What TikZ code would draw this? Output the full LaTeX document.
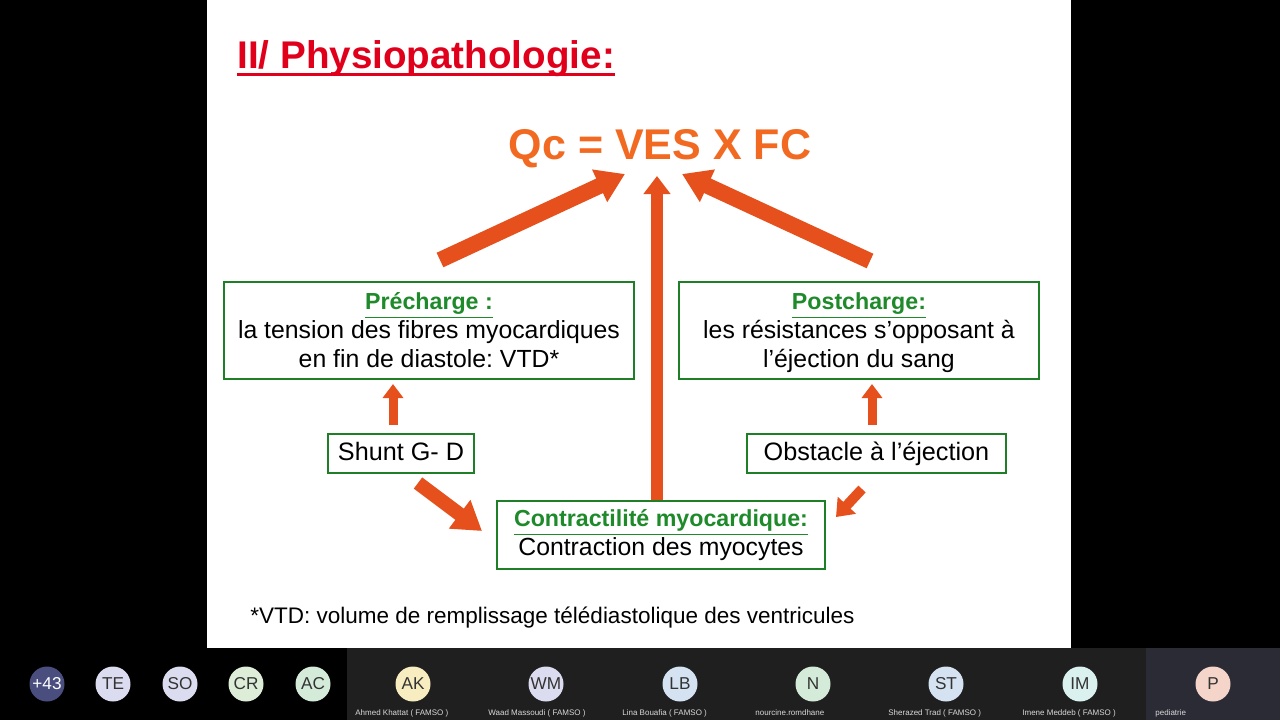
\documentclass[tikz,border=0pt]{standalone}
\usepackage{fontspec}
\setmainfont{Liberation Sans}
\usetikzlibrary{arrows.meta}

\definecolor{slidered}{HTML}{E0001B}
\definecolor{qcorange}{HTML}{F26A21}
\definecolor{boxgreen}{HTML}{1F7F26}
\definecolor{headgreen}{HTML}{1E8A2A}
\definecolor{arrowred}{HTML}{E5501C}
\definecolor{tilegrey}{HTML}{1F1F1F}
\definecolor{tileblue}{HTML}{2B2B36}
\definecolor{avnavy}{HTML}{4A4E7E}
\definecolor{avlilac}{HTML}{DCDCF0}
\definecolor{avmint}{HTML}{DDEDD8}
\definecolor{avsage}{HTML}{D4EBDA}
\definecolor{avcream}{HTML}{F8EDC0}
\definecolor{avsky}{HTML}{D4E2F2}
\definecolor{avaqua}{HTML}{DAF1F0}
\definecolor{avpeach}{HTML}{F5D5CA}

\newcommand{\boxhead}[1]{{\fontsize{11.6}{14.5}\selectfont\textcolor{headgreen}{\textbf{\underline{#1}}}}}
\frenchspacing

\begin{document}
\begin{tikzpicture}[x=0.5pt,y=-0.5pt,
   greenbox/.style={draw=boxgreen,line width=1.4pt,fill=white,align=center,
      inner sep=0pt,font=\fontsize{12.4}{14.5}\selectfont},
   smallbox/.style={greenbox,minimum height=19.5pt,text height=9.5pt,text depth=2.5pt,
      font=\fontsize{12.6}{14}\selectfont},
   bigarrow/.style={draw=arrowred,line width=8pt,-{Triangle[width=17pt,length=14pt]}},
   midarrow/.style={draw=arrowred,line width=6pt,-{Triangle[width=13pt,length=9pt]}},
   smallarrow/.style={draw=arrowred,line width=4.5pt,-{Triangle[width=10pt,length=7pt]}},
   avatar/.style={circle,minimum size=17.5pt,inner sep=-4pt,
      font=\fontsize{8.6}{10}\selectfont},
   tilename/.style={anchor=base west,inner sep=0pt,text=white!85!black,
      font=\fontsize{4}{5}\selectfont}
]
   \useasboundingbox (0,0) rectangle (1280,720);
   \fill[black] (0,0) rectangle (1280,720);
   \fill[white] (207,0) rectangle (1071,648);
   \fill[tilegrey] (347,648) rectangle (1146,720);
   \fill[tileblue] (1146,648) rectangle (1280,720);

   % title and formula
   \node[anchor=base west,inner sep=0pt,text=slidered,
      font=\fontsize{19.3}{22}\selectfont\bfseries] (title) at (237,68) {II/ Physiopathologie:};
   \draw[slidered,line width=1.5pt] ([yshift=-3pt]title.base west) -- ([yshift=-3pt]title.base east);
   \node[inner sep=0pt,text=qcorange,font=\fontsize{21.5}{24}\selectfont\bfseries] (qc) at (660,149) {Qc = VES X FC};

   % boxes
   \node[greenbox,minimum width=205pt,minimum height=48.5pt] (pre) at (429,330.5)
      {\boxhead{Précharge :}\\ la tension des fibres myocardiques\\ en fin de diastole: VTD*};
   \node[greenbox,minimum width=180pt,minimum height=48.5pt] (post) at (859,330.5)
      {\boxhead{\vphantom{É}Postcharge:}\\ les résistances s’opposant à\\ l’éjection du sang};
   \node[smallbox,minimum width=73pt] (shunt) at (401,453.5) {Shunt G- D};
   \node[smallbox,minimum width=129.5pt] (obst) at (876.5,453.5) {Obstacle à l’éjection};
   \node[greenbox,minimum width=164pt,minimum height=34pt] (contr) at (661,535)
      {\boxhead{Contractilité myocardique:}\\ Contraction des myocytes};

   \node[anchor=west,inner sep=0pt,font=\fontsize{11.25}{13}\selectfont] (vtd) at (250,618)
      {*VTD: volume de remplissage télédiastolique des ventricules};

   % arrows
   \coordinate (preTail) at (440,260);
   \coordinate (preTip) at (625,174);
   \coordinate (postTail) at (870,261);
   \coordinate (postTip) at (682,174);
   \coordinate (contrTip) at (657,176);
   \draw[bigarrow] (preTail) -- (preTip);
   \draw[bigarrow] (postTail) -- (postTip);
   \draw[midarrow] (contr.north -| contrTip) -- (contrTip);
   \coordinate (shuntUp) at (393,425);
   \coordinate (preIn) at (393,384);
   \coordinate (obstUp) at (872,425);
   \coordinate (postIn) at (872,384);
   \draw[smallarrow] (shuntUp) -- (preIn);
   \draw[smallarrow] (obstUp) -- (postIn);
   \coordinate (shuntTail) at (418,483);
   \coordinate (shuntTip) at (482,531);
   \draw[bigarrow,line width=7pt] (shuntTail) -- (shuntTip);
   \coordinate (obstTail) at (862,489);
   \coordinate (obstTip) at (836,517);
   \draw[smallarrow,line width=5pt,-{Triangle[width=12pt,length=8pt]}] (obstTail) -- (obstTip);

   % participants bar
   \foreach \cx/\lbl/\col/\tc in {47/+43/avnavy/white,113/TE/avlilac/black!80,
         180/SO/avlilac/black!80,246/CR/avmint/black!80,313/AC/avsage/black!80}
      \node[avatar,fill=\col,text=\tc] (av\cx) at (\cx,684) {\lbl};
   \foreach \cx/\lbl/\col/\who in {413/AK/avcream/Ahmed Khattat ( FAMSO ),
         546/WM/avlilac/Waad Massoudi ( FAMSO ),
         680/LB/avsky/Lina Bouafia ( FAMSO ),
         813/N/avsage/nourcine.romdhane,
         946/ST/avsky/Sherazed Trad ( FAMSO ),
         1080/IM/avaqua/Imene Meddeb ( FAMSO ),
         1213/P/avpeach/pediatrie} {
      \node[avatar,fill=\col,text=black!80] (av\cx) at (\cx,684) {\lbl};
      \node[tilename] (nm\cx) at (\cx-58,715) {\who};
   }
\end{tikzpicture}
\end{document}
